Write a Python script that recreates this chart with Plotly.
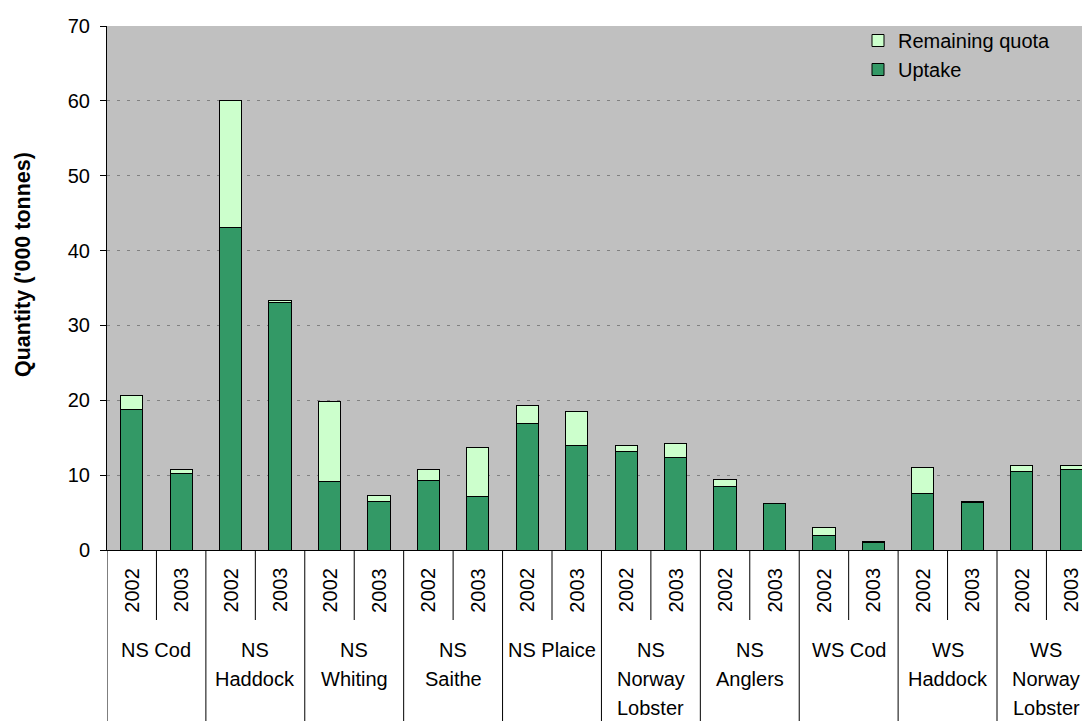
import plotly.graph_objects as go

# ---- data ----
species = ["NS Cod", "NS\nHaddock", "NS\nWhiting", "NS\nSaithe", "NS Plaice",
           "NS\nNorway\nLobster", "NS\nAnglers", "WS Cod", "WS\nHaddock", "WS\nNorway\nLobster"]
years = ["2002", "2003"]
uptake = [18.8, 10.2, 43.1, 33.0, 9.1, 6.45, 9.35, 7.2, 16.9, 13.9,
          13.2, 12.3, 8.55, 6.15, 1.9, 1.05, 7.5, 6.4, 10.5, 10.8]
total_quota = [20.7, 10.75, 60.0, 33.3, 19.9, 7.25, 10.75, 13.7, 19.3, 18.5,
               14.0, 14.25, 9.4, 6.2, 3.0, 1.08, 11.0, 6.5, 11.3, 11.3]
remaining = [round(t - u, 3) for t, u in zip(total_quota, uptake)]
y_ticks = [0, 10, 20, 30, 40, 50, 60, 70]

# ---- layout geometry (body margin removed via post_script) ----
W, H = 1082, 721
ML, MR, MT = 107, 0, 26
MB = H - 550
PH = H - MT - MB
PW = W - ML - MR
FONT = "Arial, Liberation Sans, sans-serif"


def py(Y):
    """reference pixel row -> paper y"""
    return (550 - Y) / PH


def px(X):
    """reference pixel column -> paper x"""
    return (X - ML) / PW


n = len(uptake)
xs = list(range(n))
xlabels = [years[i % 2] for i in range(n)]
slot = (997 - 107) / 18.0

fig = go.Figure()
fig.add_trace(go.Bar(x=xs, y=uptake, name="Uptake", width=0.45,
                     marker=dict(color="#339966", line=dict(color="#000000", width=1))))
fig.add_trace(go.Bar(x=xs, y=remaining, name="Remaining quota", width=0.45,
                     marker=dict(color="#CCFFCC", line=dict(color="#000000", width=1))))

fig.update_layout(
    width=W, height=H, barmode="stack",
    margin=dict(l=ML, r=MR, t=MT, b=MB, pad=0),
    paper_bgcolor="white", plot_bgcolor="#C0C0C0",
    font=dict(family=FONT, size=20, color="black"),
    showlegend=True,
    legend=dict(x=px(858), y=1.0 + 5 / PH, xanchor="left", yanchor="top",
                traceorder="reversed", bgcolor="rgba(0,0,0,0)",
                font=dict(size=20), tracegroupgap=0, itemwidth=30),
    xaxis=dict(range=[-0.5, PW / slot - 0.5],
               showticklabels=False, ticks="", showgrid=False,
               showline=True, linecolor="black", linewidth=1, zeroline=False,
               fixedrange=True),
    yaxis=dict(range=[0, 70], tickvals=y_ticks, ticks="outside", ticklen=6,
               tickcolor="black", showline=True, linecolor="black", linewidth=1,
               showgrid=True, gridcolor="#808080", griddash="3px,7px", gridwidth=1,
               zeroline=False, tickfont=dict(size=20), ticklabelstandoff=6),
)

# y-axis title
fig.add_annotation(text="<b>Quantity ('000 tonnes)</b>", xref="paper", yref="paper",
                   x=px(23), y=py(265), textangle=-90, showarrow=False,
                   font=dict(size=21.5), xanchor="center", yanchor="middle")

# year labels
for i, lab in enumerate(xlabels):
    fig.add_annotation(text=lab, x=i, xref="x", y=py(590), yref="paper",
                       textangle=-90, showarrow=False, font=dict(size=20),
                       xanchor="center", yanchor="middle")

# separators
for b in range(n):
    xb = b - 0.5
    y_end = py(721) if b % 2 == 0 else py(620)
    fig.add_shape(type="line", xref="x", yref="paper", x0=xb, x1=xb, y0=0, y1=y_end,
                  line=dict(color="black", width=1))

# group labels
line_y = [650, 679, 708]
for g, name in enumerate(species):
    for k, part in enumerate(name.split("\n")):
        fig.add_annotation(text=part, x=2 * g + 0.5, xref="x", y=py(line_y[k]), yref="paper",
                           showarrow=False, font=dict(size=20),
                           xanchor="center", yanchor="middle")

fig.write_html("out.html",
               config={"displayModeBar": False},
               post_script="document.body.style.margin='0';"
                           "document.body.style.overflow='hidden';")
